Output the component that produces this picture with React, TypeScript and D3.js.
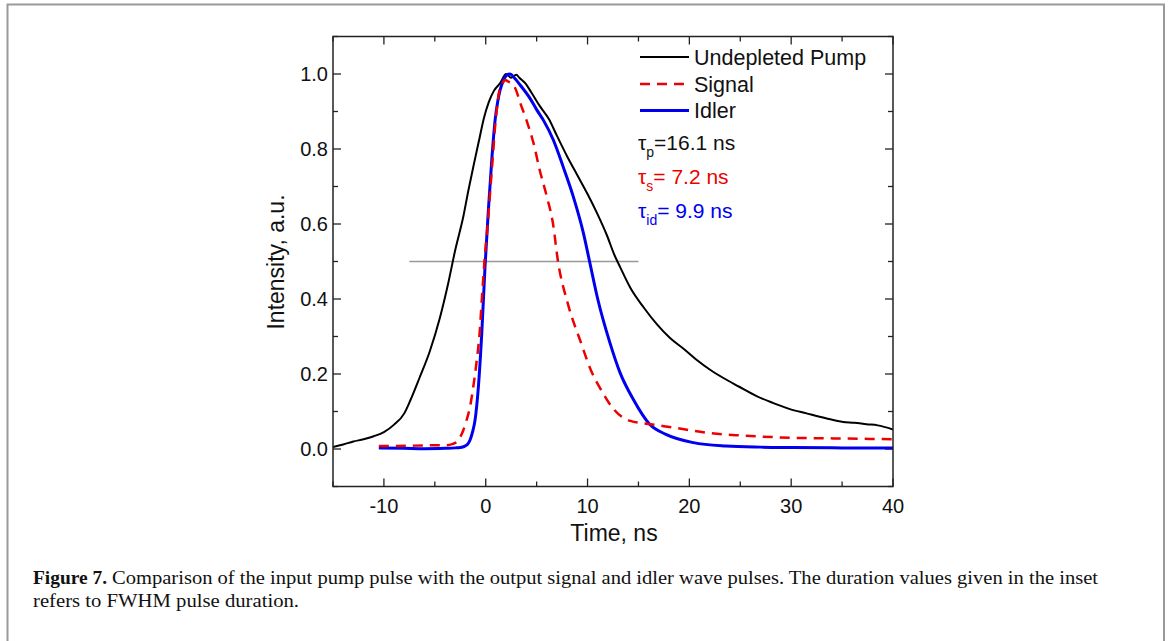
import React from "react";
import * as d3 from "d3";

const pumpT = [-15, -14, -13, -12, -11, -10, -9, -8, -7.4, -6.5, -5.5, -4.5, -3.7, -3, -2.2, -1.7, -1.2, -0.6, -0.2, 0.3, 0.8, 1.4, 2.0, 2.5, 3.0, 3.3, 3.9, 4.5, 5.3, 6.2, 7.0, 8.0, 9.0, 10.0, 11.0, 11.9, 12.6, 13.2, 14.2, 15.5, 16.8, 18.1, 19.4, 20.7, 22.0, 23.3, 24.9, 26.6, 28.2, 29.8, 31.5, 33.4, 35.1, 36.2, 37.4, 38.5, 40];
const pumpI = [0.005, 0.012, 0.02, 0.026, 0.034, 0.045, 0.065, 0.095, 0.13, 0.19, 0.26, 0.35, 0.44, 0.53, 0.62, 0.69, 0.755, 0.83, 0.88, 0.925, 0.955, 0.975, 1.0, 0.99, 0.998, 0.99, 0.975, 0.95, 0.915, 0.88, 0.835, 0.78, 0.73, 0.68, 0.625, 0.57, 0.52, 0.485, 0.43, 0.378, 0.333, 0.296, 0.268, 0.238, 0.212, 0.19, 0.166, 0.141, 0.123, 0.107, 0.095, 0.082, 0.072, 0.07, 0.066, 0.063, 0.052];

const signalT = [-10.5, -9, -7, -5, -4, -3.3, -2.9, -2.5, -2.2, -1.9, -1.54, -1.2, -0.88, -0.6, -0.39, -0.07, 0.2, 0.42, 0.7, 0.92, 1.2, 1.41, 1.7, 1.9, 2.2, 2.55, 2.9, 3.4, 4.0, 4.7, 5.3, 6.0, 6.6, 7.1, 8.05, 9.36, 10.3, 11.3, 12.6, 14.2, 16.2, 18.5, 21.8, 25.1, 30, 35.1, 40];
const signalI = [0.008, 0.008, 0.009, 0.01, 0.01, 0.013, 0.018, 0.032, 0.05, 0.075, 0.113, 0.17, 0.237, 0.31, 0.397, 0.52, 0.6, 0.68, 0.78, 0.86, 0.93, 0.966, 0.978, 0.984, 0.98, 0.975, 0.962, 0.922, 0.877, 0.815, 0.744, 0.673, 0.602, 0.5, 0.389, 0.283, 0.212, 0.159, 0.105, 0.075, 0.066, 0.057, 0.043, 0.036, 0.030, 0.028, 0.026];

const idlerT = [-10.5, -8, -6, -4, -3, -2.5, -2.2, -1.8, -1.54, -1.3, -1.05, -0.72, -0.39, -0.07, 0.26, 0.59, 0.92, 1.2, 1.41, 1.7, 2.06, 2.4, 2.8, 3.4, 4.35, 5.0, 5.66, 6.64, 7.6, 8.6, 9.6, 10.2, 11.0, 12.2, 13.2, 14.5, 16.1, 17.7, 20.4, 23.6, 27, 30, 35, 40];
const idlerI = [0.003, 0.002, 0.001, 0.002, 0.003, 0.004, 0.006, 0.012, 0.024, 0.045, 0.077, 0.166, 0.308, 0.486, 0.637, 0.77, 0.877, 0.93, 0.957, 0.98, 0.997, 1.0, 0.99, 0.97, 0.935, 0.905, 0.877, 0.824, 0.753, 0.673, 0.575, 0.5, 0.4, 0.283, 0.203, 0.132, 0.066, 0.039, 0.017, 0.008, 0.005, 0.004, 0.003, 0.003];

const xTicks = [-10, 0, 10, 20, 30, 40];
const yTicks = [0.0, 0.2, 0.4, 0.6, 0.8, 1.0];
const halfLevel = 0.5;
const halfFrom = -7.5;
const halfTo = 15;

const legendLabels = ["Undepleted Pump", "Signal", "Idler"];
const captionBold = "Figure 7.";
const captionLine1 = "Comparison of the input pump pulse with the output signal and idler wave pulses. The duration values given in the inset";
const captionLine2 = "refers to FWHM pulse duration.";

const W = 1170;
const H = 641;
const ml = 333, mr = 893, mt = 36.5, mb = 486.5;

export default function App() {
  const x = d3.scaleLinear().domain([-15, 40]).range([ml, mr]);
  const y = d3.scaleLinear().domain([-0.1, 1.1]).range([mb, mt]);

  const mk = (ts: number[], is: number[]) =>
    d3.line<number>().x((_, i) => x(ts[i])).y((_, i) => y(is[i])).curve(d3.curveMonotoneX)(is) || "";

  const xMinor = d3.range(-15, 40.01, 5).filter((v) => !xTicks.includes(v));
  const yMinor = d3.range(-0.1, 1.101, 0.1).map((v) => Math.round(v * 10) / 10).filter((v) => !yTicks.some((t) => Math.abs(t - v) < 1e-6));

  const font = "'Liberation Sans', Arial, sans-serif";
  const axisColor = "#222";
  const major = 8, minor = 5;

  return (
    <svg width={W} height={H} style={{ position: "absolute", left: 0, top: 0 }}>
      <rect x={0} y={0} width={W} height={H} fill="#fff" />
      <path d={`M7.5,${H + 5} V4.5 H1164 V${H + 5}`} fill="none" stroke="#999" strokeWidth={2} />
      <defs>
        <clipPath id="plotclip">
          <rect x={ml} y={mt} width={mr - ml} height={mb - mt} />
        </clipPath>
      </defs>

      {/* ticks */}
      <g stroke={axisColor} strokeWidth={1.3}>
        {xTicks.map((t) => (
          <g key={"xt" + t}>
            <line x1={x(t)} x2={x(t)} y1={mb} y2={mb - major} />
            <line x1={x(t)} x2={x(t)} y1={mt} y2={mt + major} />
          </g>
        ))}
        {xMinor.map((t) => (
          <g key={"xm" + t}>
            <line x1={x(t)} x2={x(t)} y1={mb} y2={mb - minor} />
            <line x1={x(t)} x2={x(t)} y1={mt} y2={mt + minor} />
          </g>
        ))}
        {yTicks.map((t) => (
          <g key={"yt" + t}>
            <line x1={ml} x2={ml + major} y1={y(t)} y2={y(t)} />
            <line x1={mr} x2={mr - major} y1={y(t)} y2={y(t)} />
          </g>
        ))}
        {yMinor.map((t) => (
          <g key={"ym" + t}>
            <line x1={ml} x2={ml + minor} y1={y(t)} y2={y(t)} />
            <line x1={mr} x2={mr - minor} y1={y(t)} y2={y(t)} />
          </g>
        ))}
      </g>

      {/* tick labels */}
      <g fontFamily={font} fontSize={20} fill="#111">
        {xTicks.map((t) => (
          <text key={"xl" + t} x={x(t)} y={513} textAnchor="middle">{t}</text>
        ))}
        {yTicks.map((t) => (
          <text key={"yl" + t} x={328} y={y(t) + 7} textAnchor="end">{t.toFixed(1)}</text>
        ))}
      </g>
      <text x={614} y={541} textAnchor="middle" fontFamily={font} fontSize={23} fill="#111">Time, ns</text>
      <text transform={`translate(284,262) rotate(-90)`} textAnchor="middle" fontFamily={font} fontSize={23} fill="#111">Intensity, a.u.</text>

      {/* half max line */}
      <line x1={x(halfFrom)} x2={x(halfTo)} y1={y(halfLevel)} y2={y(halfLevel)} stroke="#999" strokeWidth={1.5} />

      <g clipPath="url(#plotclip)" fill="none">
        <path d={mk(pumpT, pumpI)} stroke="#000" strokeWidth={2} />
        <path d={mk(idlerT, idlerI)} stroke="#0000ee" strokeWidth={3} />
        <path d={mk(signalT, signalI)} stroke="#ee0000" strokeWidth={2.5} strokeDasharray="10,7" />
      </g>

      <rect x={ml} y={mt} width={mr - ml} height={mb - mt} fill="none" stroke={axisColor} strokeWidth={1.5} />

      {/* legend */}
      <g fontFamily={font} fontSize={21.5} fill="#111">
        <line x1={640} x2={689} y1={57} y2={57} stroke="#000" strokeWidth={2} />
        <text x={694} y={64.5}>{legendLabels[0]}</text>
        <line x1={640} x2={689} y1={84} y2={84} stroke="#ee0000" strokeWidth={2.5} strokeDasharray="10,7" />
        <text x={694} y={91.5}>{legendLabels[1]}</text>
        <line x1={640} x2={689} y1={110.5} y2={110.5} stroke="#0000ee" strokeWidth={3} />
        <text x={694} y={118}>{legendLabels[2]}</text>
      </g>
      <g fontFamily={font} fontSize={21}>
        <text x={638} y={150} fill="#111">τ<tspan fontSize={14} dy={7}>p</tspan><tspan dy={-7}>=16.1 ns</tspan></text>
        <text x={638} y={184} fill="#ee0000">τ<tspan fontSize={14} dy={7}>s</tspan><tspan dy={-7}>= 7.2 ns</tspan></text>
        <text x={638} y={218} fill="#0000ee">τ<tspan fontSize={14} dy={7}>id</tspan><tspan dy={-7}>= 9.9 ns</tspan></text>
      </g>

      {/* caption */}
      <g fontFamily="'Liberation Serif', 'DejaVu Serif', serif" fontSize={19.5} fill="#111">
        <text x={33} y={584} fontWeight="bold" textLength={74} lengthAdjust="spacingAndGlyphs">{captionBold}</text>
        <text x={112} y={584} textLength={986} lengthAdjust="spacingAndGlyphs">{captionLine1}</text>
        <text x={33} y={607} textLength={266} lengthAdjust="spacingAndGlyphs">{captionLine2}</text>
      </g>
    </svg>
  );
}
